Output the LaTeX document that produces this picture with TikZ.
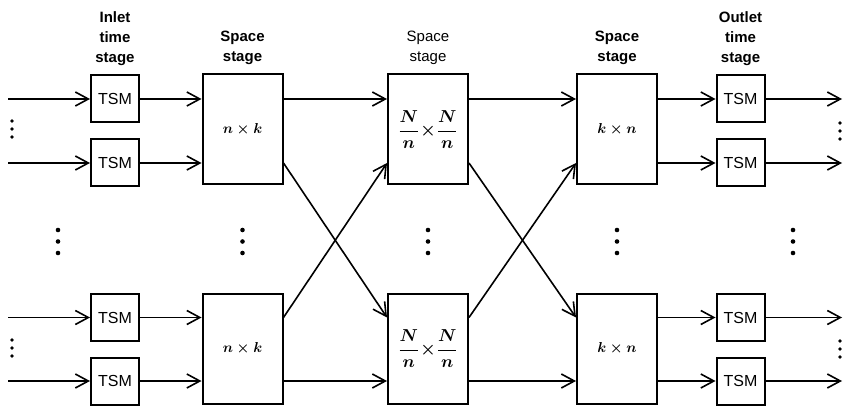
\documentclass[tikz,border=0pt]{standalone}
\usepackage{amsmath}
\usepackage{fontspec}
\setmainfont{Liberation Sans}
\usetikzlibrary{arrows.meta, positioning}

\begin{document}
\begin{tikzpicture}[x=1pt, y=-1pt, line width=1.6pt,
    >={Straight Barb[length=13pt, width=14pt]},
    tsm/.style={draw, line width=2pt, minimum width=48pt, minimum height=47pt,
        inner sep=0pt, font=\fontsize{16}{18}\selectfont},
    sbox/.style={draw, line width=2pt, minimum width=80pt, minimum height=110pt,
        inner sep=0pt, font=\fontsize{14}{16}\selectfont\boldmath},
    fracbox/.style={sbox, font=\fontsize{16}{18}\selectfont\boldmath},
    stagelbl/.style={align=center, inner sep=0pt,
        font=\fontsize{15}{20}\selectfont\bfseries}]
    \useasboundingbox (0,0) rectangle (843,406);

    % Inlet and outlet time stages
    \foreach \n/\y in {1/99, 2/163, 3/317.5, 4/381} {
        \node[tsm] (in\n) at (115,\y) {TSM};
        \node[tsm] (out\n) at (740.5,\y) {TSM};
        \coordinate (src\n) at (8,\y);
        \coordinate (dst\n) at (842,\y);
    }

    % Space stages
    \node[sbox] (sa1) at (242.5,129.5) {$n \times k$};
    \node[sbox] (sa2) at (242.5,348.5) {$n \times k$};
    \node[fracbox] (sb1) at (428,129.5) {$\dfrac{N}{n}\!\times\!\dfrac{N}{n}$};
    \node[fracbox] (sb2) at (428,348.5) {$\dfrac{N}{n}\!\times\!\dfrac{N}{n}$};
    \node[sbox] (sc1) at (617,129.5) {$k \times n$};
    \node[sbox] (sc2) at (617,348.5) {$k \times n$};

    % Stage headings
    \node[stagelbl, above=8pt of in1] (lin) {Inlet\\time\\stage};
    \node[stagelbl, above=8pt of sa1] (lsa) {Space\\stage};
    \node[stagelbl, above=8pt of sb1, font=\fontsize{15}{20}\selectfont] (lsb) {Space\\stage};
    \node[stagelbl, above=8pt of sc1] (lsc) {Space\\stage};
    \node[stagelbl, above=8pt of out1] (lout) {Outlet\\time\\stage};

    % Lines into and out of the time stages
    \foreach \n/\s in {1/1, 2/1, 3/2, 4/2} {
        \draw[->] (src\n) -- (in\n);
        \draw[->] (in\n) -- (sa\s.west |- in\n);
        \draw[->] (sc\s.east |- out\n) -- (out\n);
        \draw[->] (out\n) -- (dst\n);
    }

    % Links between the space stages
    \draw[->] (sa1.east |- in1) -- (sb1.west |- in1);
    \draw[->] (sb1.east |- in1) -- (sc1.west |- in1);
    \draw[->] (sa2.east |- in4) -- (sb2.west |- in4);
    \draw[->] (sb2.east |- in4) -- (sc2.west |- in4);
    \draw[->] (sa1.east |- in2) -- (sb2.west |- in3);
    \draw[->] (sa2.east |- in3) -- (sb1.west |- in2);
    \draw[->] (sb1.east |- in2) -- (sc2.west |- in3);
    \draw[->] (sb2.east |- in3) -- (sc1.west |- in2);

    % Dots
    \foreach \x in {58, 242.5, 428, 617, 793}
        \foreach \d in {0, 11.5, 23} \fill (\x,230+\d) circle (2.3pt);
    \foreach \x/\y in {12/121, 12/340, 840/123, 840/341}
        \foreach \d in {0, 8, 16} \fill (\x,\y+\d) circle (1.8pt);
\end{tikzpicture}
\end{document}
